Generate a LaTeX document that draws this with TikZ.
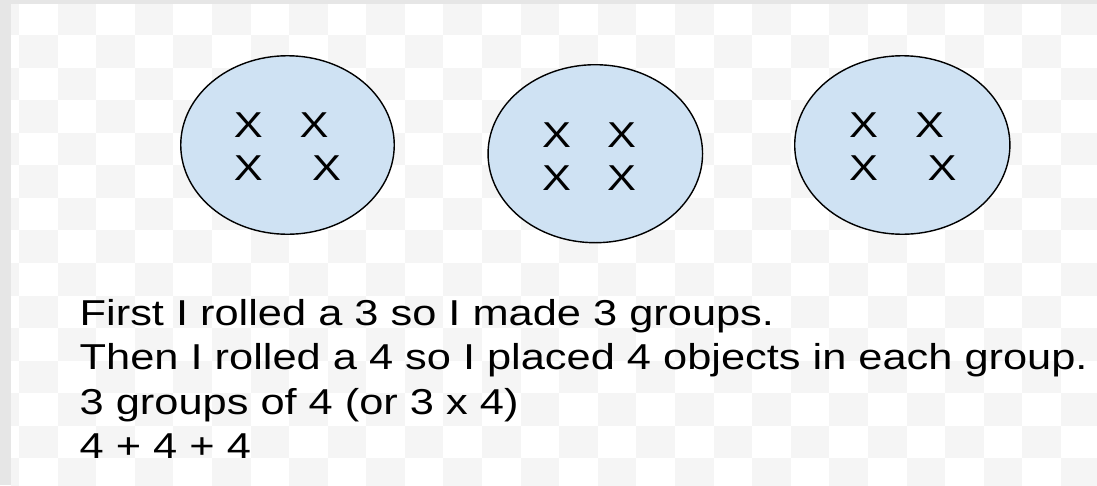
\documentclass[tikz,border=0pt]{standalone}
\usepackage{fontspec}
\setmainfont{Liberation Sans}[FakeStretch=1.205]
\usetikzlibrary{shapes.geometric}
\definecolor{framegray}{HTML}{E6E6E6}
\definecolor{checkgray}{HTML}{F5F5F5}
\definecolor{groupfill}{HTML}{CFE2F3}
\tikzset{
  groupshape/.style={ellipse, draw=black, fill=groupfill, line width=1.4pt, inner sep=0pt},
  xmark/.style={anchor=base, inner sep=0pt, font=\fontsize{36}{44.5}\selectfont},
  textline/.style={anchor=base west, inner sep=0pt, font=\fontsize{36}{44.5}\selectfont}
}
\begin{document}
\begin{tikzpicture}[x=1pt, y=-1pt]
\useasboundingbox (0,0) rectangle (1097,485);
% background frame and checkerboard
\fill[framegray] (0,0) rectangle (1097,485);
\begin{scope}
  \clip (11,4) rectangle (1097,485);
  \fill[white] (11,4) rectangle (1097,485);
  \foreach \r in {0,...,14}{
    \foreach \c in {-1,...,28}{
      \pgfmathtruncatemacro{\myparity}{mod(\r+\c+2,2)}
      \ifnum\myparity=1
        \fill[checkgray] ({19+38.59*\c},{2.43+32.57*\r}) rectangle ++(38.59,32.57);
      \fi
    }
  }
\end{scope}
% groups
\node[groupshape, minimum width=213.5pt, minimum height=178.5pt] (g1) at (287.5,145) {};
\node[groupshape, minimum width=214.5pt, minimum height=178pt] (g2) at (595.3,153.7) {};
\node[groupshape, minimum width=215.2pt, minimum height=178.5pt] (g3) at (902.3,145) {};
% objects in group 1
\node[xmark] (a1) at (248.3,137) {X};
\node[xmark] (a2) at (314.2,137) {X};
\node[xmark] (a3) at (248.3,180) {X};
\node[xmark] (a4) at (326.7,180) {X};
% objects in group 2
\node[xmark] (b1) at (556.7,147) {X};
\node[xmark] (b2) at (621.7,147) {X};
\node[xmark] (b3) at (556.7,190) {X};
\node[xmark] (b4) at (621.7,190) {X};
% objects in group 3
\node[xmark] (c1) at (863.7,137) {X};
\node[xmark] (c2) at (929.7,137) {X};
\node[xmark] (c3) at (863.7,180) {X};
\node[xmark] (c4) at (942,180) {X};
% explanation
\node[textline] (t1) at (79.5,325) {First I rolled a 3 so I made 3 groups.};
\node[textline] (t2) at (79.5,369.5) {Then I rolled a 4 so I placed 4 objects in each group.};
\node[textline] (t3) at (79.5,414) {3 groups of 4 (or 3 x 4)};
\node[textline] (t4) at (79.5,458.5) {4 + 4 + 4};
\end{tikzpicture}
\end{document}
